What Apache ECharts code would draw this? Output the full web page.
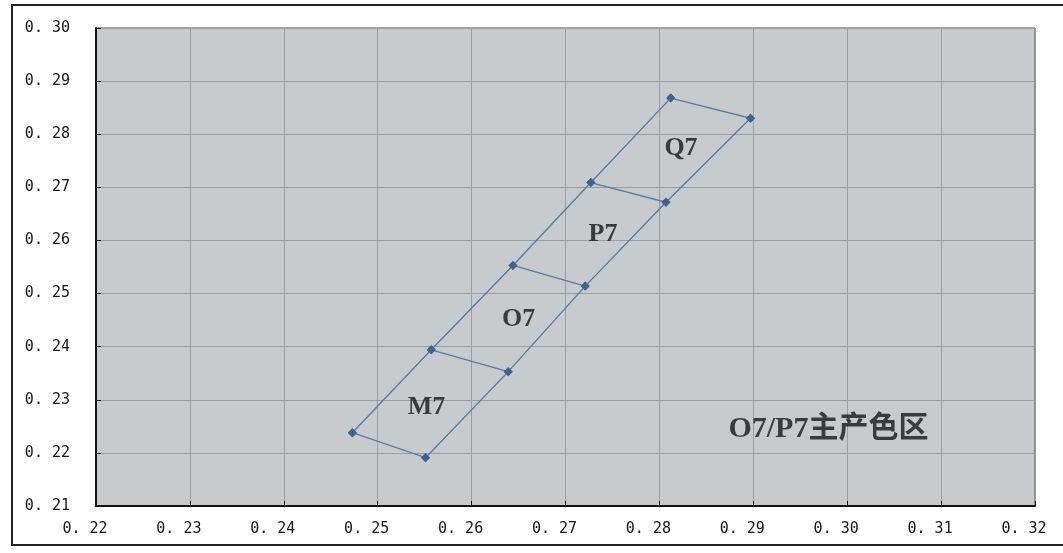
<!DOCTYPE html>
<html>
<head>
<meta charset="utf-8">
<script src="https://cdn.jsdelivr.net/npm/echarts@6/dist/echarts.min.js"></script>
<style>
    html, body { margin: 0; padding: 0; background: #ffffff; }
    #chart { width: 1063px; height: 553px; }
</style>
</head>
<body>
<div id="chart"></div>
<script>
//  左侧边界点 (从下到上)
const leftX = [0.2473, 0.2557, 0.2644, 0.2727, 0.2812];
const leftY = [0.2238, 0.2394, 0.2553, 0.2709, 0.2868];
//  右侧边界点 (从下到上)
const rightX = [0.2551, 0.2639, 0.2721, 0.2807, 0.2897];
const rightY = [0.2191, 0.2353, 0.2514, 0.2672, 0.2830];
//  色区名称及标注位置
const zoneNames = ['M7', 'O7', 'P7', 'Q7'];
const zoneLabelX = [0.2552, 0.2650, 0.2740, 0.2823];
const zoneLabelY = [0.2285, 0.2452, 0.2611, 0.2774];
//  说明文字
const noteText = 'O7/P7主产色区';
const noteX = [0.2980];
const noteY = [0.2245];

const lineColor = '#5a7ca4';
const pointColor = '#3d6590';
const labelFont = '"Liberation Serif", "Noto Sans CJK SC", serif';

//  刻度文字 0. 30 这种样式
const tickText = function (v) {
    return v.toFixed(2).replace('.', '. ');
};

const pts = function (xs, ys) {
    return xs.map((x, i) => [x, ys[i]]);
};

const edgeSeries = function (data) {
    return {
        type: 'line',
        data: data,
        symbol: 'diamond',
        symbolSize: 9,
        silent: true,
        itemStyle: {color: pointColor},
        lineStyle: {color: lineColor, width: 1.4},
        z: 3,
    };
};

const textLabel = function (size) {
    return {
        show: true,
        position: 'inside',
        formatter: '{b}',
        color: '#161616',
        fontSize: size,
        fontWeight: 'bold',
        fontFamily: labelFont,
    };
};

const series = [
    edgeSeries(pts(leftX, leftY)),
    edgeSeries(pts(rightX, rightY)),
];
//  横向连线
leftX.forEach((x, i) => {
    series.push(edgeSeries([[x, leftY[i]], [rightX[i], rightY[i]]]));
});
//  色区名称
series.push({
    type: 'scatter',
    symbolSize: 0,
    silent: true,
    data: zoneNames.map((n, i) => ({name: n, value: [zoneLabelX[i], zoneLabelY[i]]})),
    label: textLabel(26),
    z: 4,
});
series.push({
    type: 'scatter',
    symbolSize: 0,
    silent: true,
    data: [{name: noteText, value: [noteX[0], noteY[0]]}],
    label: textLabel(30),
    z: 4,
});

const axisFont = {
    color: '#151515',
    fontSize: 15,
    fontFamily: '"DejaVu Sans Mono", monospace',
    formatter: tickText,
};

const myChart = echarts.init(document.getElementById('chart'));
myChart.setOption({
    animation: false,
    backgroundColor: '#ffffff',
    grid: {
        left: 96,
        right: 28,
        top: 28,
        bottom: 47,
        show: true,
        backgroundColor: '#c7cbce',
        borderColor: '#4a4a4a',
        borderWidth: 1,
    },
    //  外框
    graphic: [
        {
            type: 'rect',
            shape: {x: 12, y: 5, width: 1070, height: 540},
            style: {fill: 'none', stroke: '#222', lineWidth: 2},
            silent: true,
        }
    ],
    xAxis: {
        type: 'value',
        min: 0.22,
        max: 0.32,
        interval: 0.01,
        axisLine: {show: true, onZero: false, lineStyle: {color: '#111', width: 2}},
        axisTick: {show: true, inside: true, length: 5, lineStyle: {color: '#111'}},
        axisLabel: Object.assign({margin: 16, padding: [0, 22, 0, 0]}, axisFont),
        splitLine: {show: true, lineStyle: {color: '#999da1', width: 1}},
    },
    yAxis: {
        type: 'value',
        min: 0.21,
        max: 0.30,
        interval: 0.01,
        axisLine: {show: true, onZero: false, lineStyle: {color: '#111', width: 2}},
        axisTick: {show: true, inside: true, length: 5, lineStyle: {color: '#111'}},
        axisLabel: Object.assign({margin: 26}, axisFont),
        splitLine: {show: true, lineStyle: {color: '#999da1', width: 1}},
    },
    series: series,
});
</script>
</body>
</html>
